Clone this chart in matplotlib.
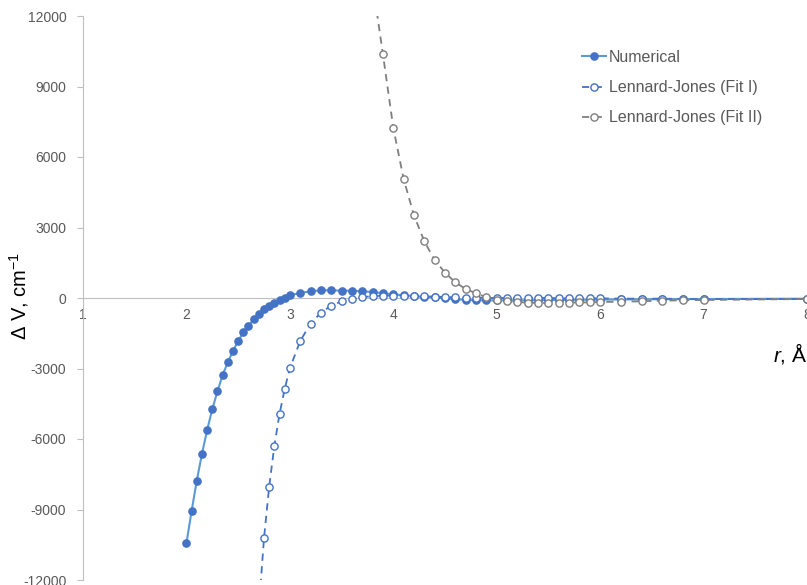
import matplotlib

matplotlib.use("Agg")
import matplotlib.pyplot as plt  # noqa: E402

plt.rcParams["font.family"] = ["Liberation Sans", "DejaVu Sans"]
plt.rcParams["mathtext.fontset"] = "custom"
plt.rcParams["mathtext.rm"] = "Liberation Sans"
plt.rcParams["mathtext.it"] = "Liberation Sans:italic"
plt.rcParams["axes.unicode_minus"] = False

# numerical curve, r in Angstrom, dV in cm^-1
num_r = [2.0, 2.05, 2.1, 2.15, 2.2, 2.25, 2.3, 2.35, 2.4, 2.45, 2.5, 2.55, 2.6,
         2.65, 2.7, 2.75, 2.8, 2.85, 2.9, 2.95, 3.0,
         3.1, 3.2, 3.3, 3.4, 3.5, 3.6, 3.7, 3.8, 3.9, 4.0,
         4.1, 4.2, 4.3, 4.4, 4.5, 4.6, 4.7, 4.8, 4.9, 5.0,
         5.1, 5.2, 5.3, 5.4, 5.5, 5.6, 5.7, 5.8, 5.9, 6.0,
         6.2, 6.4, 6.6, 6.8, 7.0, 8.0]
num_v = [-10437, -9063, -7774, -6638, -5617, -4736, -3970, -3276, -2736, -2255,
         -1830, -1459, -1179, -906, -681, -481, -328, -200, -85, 13, 115,
         213, 285, 328, 328, 311, 311, 285, 255, 200, 157,
         115, 75, 45, 25, -15, -55, -80, -95, -100, -100,
         -100, -98, -95, -92, -88, -85, -80, -77, -73, -70,
         -63, -57, -52, -48, -44, -30]

# Lennard-Jones fit I
fit1_r = [2.7, 2.75, 2.8, 2.85, 2.9, 2.95, 3.0,
          3.1, 3.2, 3.3, 3.4, 3.5, 3.6, 3.7, 3.8, 3.9, 4.0,
          4.1, 4.2, 4.3, 4.4, 4.5, 4.6, 4.7, 4.8, 4.9, 5.0,
          5.1, 5.2, 5.3, 5.4, 5.5, 5.6, 5.7, 5.8, 5.9, 6.0,
          6.2, 6.4, 6.6, 6.8, 7.0, 8.0]
fit1_v = [-13200, -10225, -8029, -6297, -4936, -3872, -2991,
          -1830, -1093, -625, -328, -142, -43, 43, 72, 98, 98,
          98, 85, 71, 57, 43, 28, 14, 14, 0, 0,
          0, 0, 0, 0, 0, -14, -14, -14, -14, -14,
          -28, -28, -28, -42, -42, -42]

# Lennard-Jones fit II
fit2_r = [3.8, 3.9, 4.0, 4.1, 4.2, 4.3, 4.4, 4.5, 4.6, 4.7, 4.8, 4.9, 5.0,
          5.1, 5.2, 5.3, 5.4, 5.5, 5.6, 5.7, 5.8, 5.9, 6.0,
          6.2, 6.4, 6.6, 6.8, 7.0, 8.0]
fit2_v = [13400, 10370, 7246, 5063, 3519, 2413, 1617, 1077, 668, 383, 200, 30, -98,
          -140, -170, -200, -213, -213, -213, -200, -187, -187, -170,
          -156, -140, -113, -98, -85, -42]

BLUE = "#4472C4"
LIGHT_BLUE = "#5B9BD5"
GREY = "#7F7F7F"
TEXT = "#595959"

fig = plt.figure(figsize=(8.07, 5.85), dpi=100)
ax = fig.add_axes([83 / 807, 5 / 585, 724 / 807, 564 / 585])

ax.plot(num_r, num_v, color=LIGHT_BLUE, lw=1.5, marker="o", ms=5.2,
        mfc=BLUE, mec=BLUE, label="Numerical", zorder=3)
ax.plot(fit1_r, fit1_v, color=BLUE, lw=1.3, ls=(0, (4, 3)), marker="o", ms=5.2,
        mfc="white", mec=BLUE, mew=1.0, label="Lennard-Jones (Fit I)", zorder=4)
ax.plot(fit2_r, fit2_v, color=GREY, lw=1.3, ls=(0, (4, 3)), marker="o", ms=5.2,
        mfc="white", mec=GREY, mew=1.0, label="Lennard-Jones (Fit II)", zorder=5)

ax.set_xlim(1, 8)
ax.set_ylim(-12000, 12000)
ax.set_yticks(range(-12000, 12001, 3000))
ax.set_xticks(range(1, 9))

for s in ("top", "right"):
    ax.spines[s].set_visible(False)
ax.spines["bottom"].set_position(("data", 0))
ax.spines["bottom"].set_color("#BFBFBF")
ax.spines["left"].set_color("#BFBFBF")
ax.tick_params(axis="x", length=0, pad=7, labelsize=10, labelcolor=TEXT)
ax.tick_params(axis="y", length=4, width=0.8, color="#BFBFBF", pad=8,
               labelsize=10, labelcolor=TEXT)

fig.text(19 / 807, 1 - 296 / 585, "Δ V, cm$^{-1}$", fontsize=14.5, rotation=90,
         ha="center", va="center")
ax.text(8, -2380, "$r$, Å", fontsize=15, ha="right", va="center")

leg = ax.legend(loc="upper left", bbox_to_anchor=(582 / 807, 1 - 50 / 585),
                bbox_transform=fig.transFigure, frameon=False, fontsize=11.5,
                handlelength=1.5, handletextpad=0.2, labelspacing=0.95,
                borderpad=0, borderaxespad=0)
for t in leg.get_texts():
    t.set_color(TEXT)

fig.savefig("out.png", dpi=100)
plt.close(fig)
